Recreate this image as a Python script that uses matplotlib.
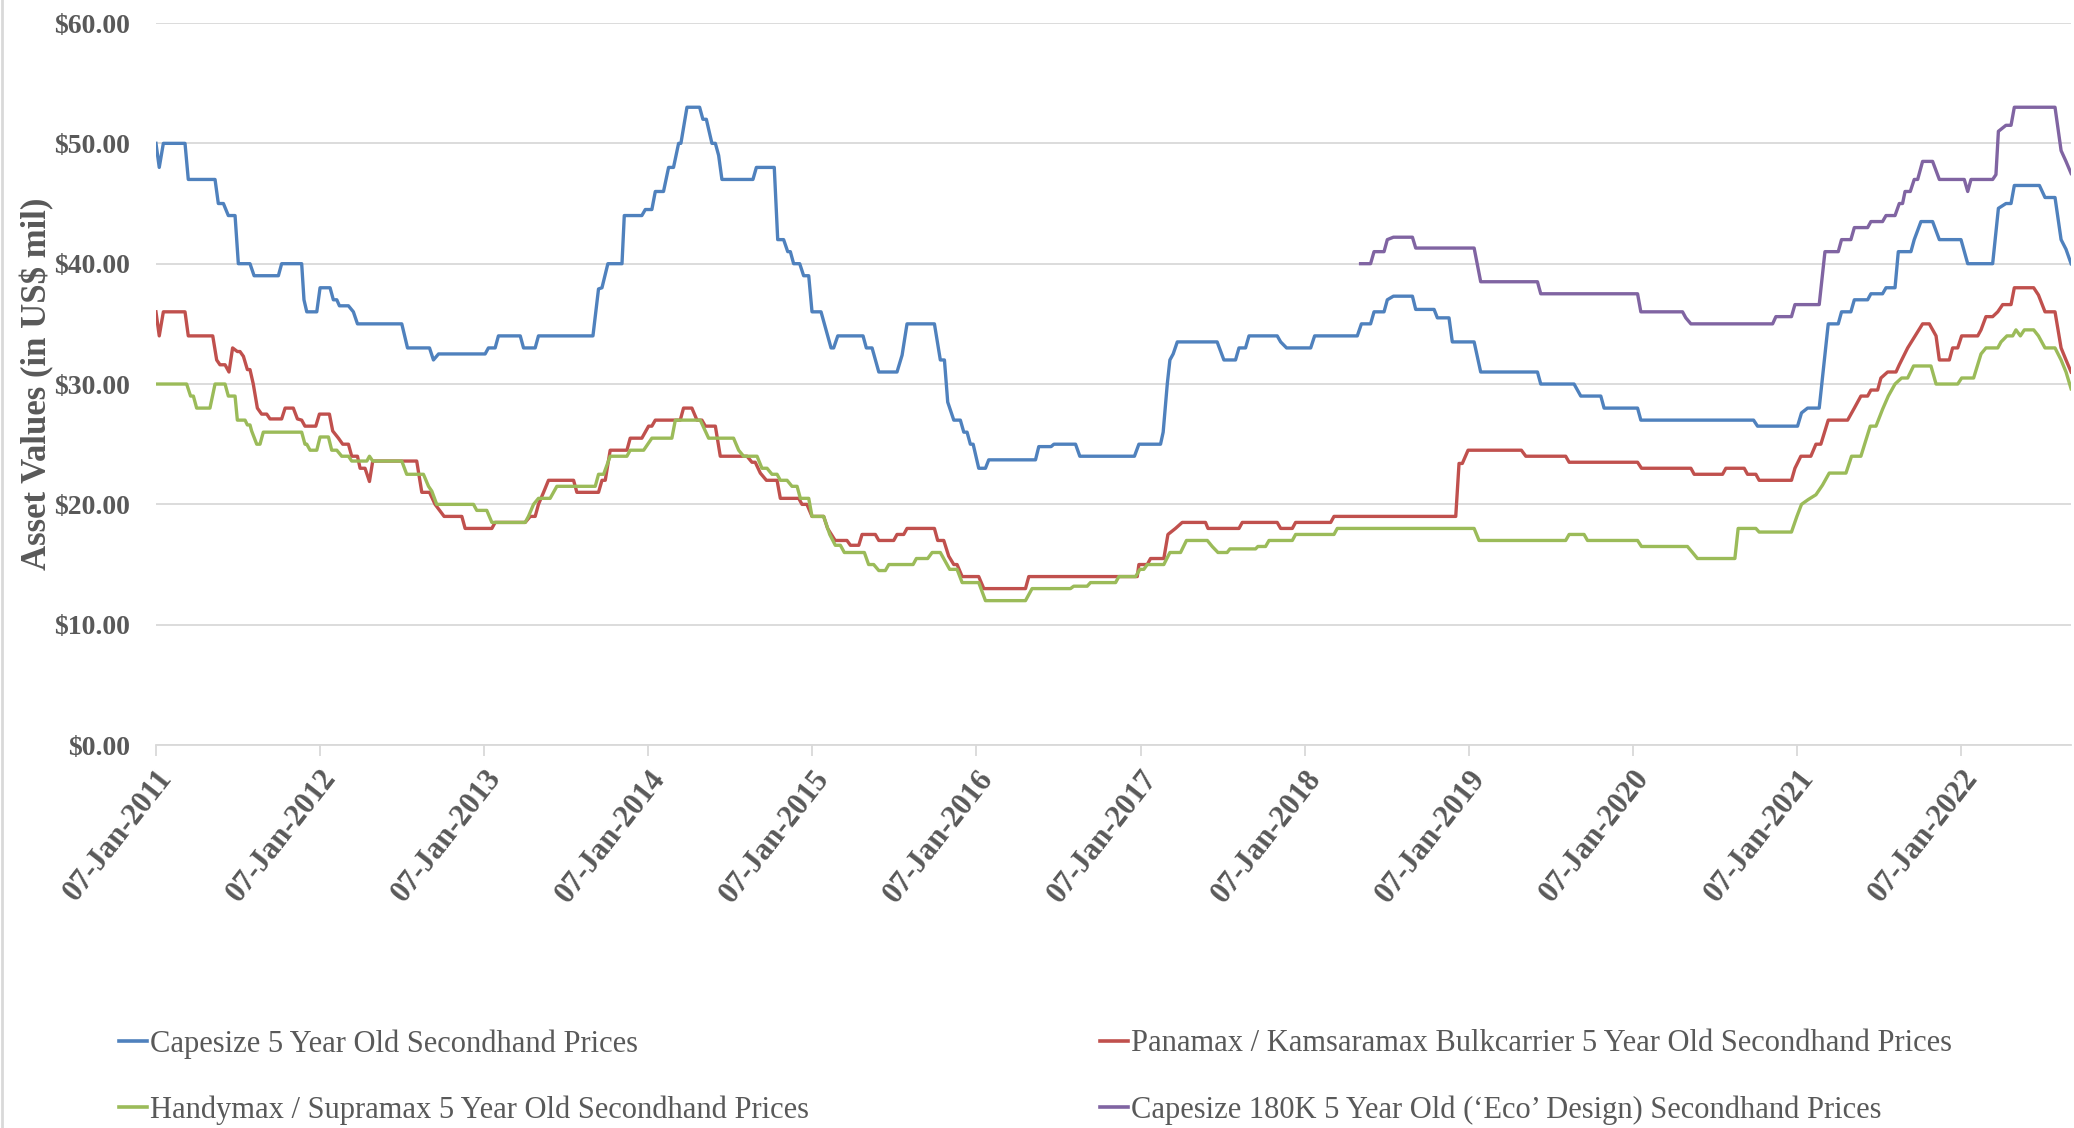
import numpy as np
import pandas as pd
import matplotlib
matplotlib.use("Agg")
import matplotlib.pyplot as plt
import matplotlib.dates as mdates
from matplotlib.lines import Line2D

# secondhand asset values in US$ mil, as (years after 07-Jan-2011, value)
capesize = [(0.0, 50), (0.020, 48), (0.045, 50), (0.177, 50), (0.197, 47), (0.360, 47), (0.380, 45), (0.411, 45),
            (0.441, 44), (0.482, 44), (0.502, 40), (0.573, 40), (0.598, 39), (0.746, 39), (0.766, 40), (0.888, 40),
            (0.902, 37), (0.919, 36), (0.980, 36), (1.000, 38), (1.061, 38), (1.081, 37), (1.102, 37), (1.118, 36.5),
            (1.173, 36.5), (1.203, 36), (1.228, 35), (1.498, 35), (1.533, 33), (1.667, 33), (1.691, 32), (1.722, 32.5),
            (2.006, 32.5), (2.026, 33), (2.067, 33), (2.087, 34), (2.220, 34), (2.240, 33), (2.311, 33), (2.331, 34),
            (2.663, 34), (2.697, 37.9), (2.718, 38), (2.754, 40), (2.840, 40), (2.854, 44), (2.961, 44), (2.982, 44.5),
            (3.022, 44.5), (3.043, 46), (3.093, 46), (3.124, 48), (3.154, 48), (3.185, 50), (3.199, 50), (3.236, 53),
            (3.313, 53), (3.333, 52), (3.354, 52), (3.388, 50), (3.409, 50), (3.429, 49), (3.449, 47), (3.638, 47),
            (3.659, 48), (3.768, 48), (3.789, 42), (3.825, 42), (3.850, 41), (3.866, 41), (3.886, 40), (3.923, 40),
            (3.947, 39), (3.978, 39), (3.998, 36), (4.053, 36), (4.114, 33), (4.130, 33), (4.155, 34), (4.309, 34),
            (4.329, 33), (4.364, 33), (4.405, 31), (4.516, 31), (4.547, 32.4), (4.577, 35), (4.744, 35), (4.780, 32),
            (4.805, 32), (4.825, 28.5), (4.862, 27), (4.902, 27), (4.923, 26), (4.943, 26), (4.963, 25), (4.980, 25),
            (5.014, 23), (5.055, 23), (5.075, 23.7), (5.360, 23.7), (5.380, 24.8), (5.455, 24.8), (5.472, 25),
            (5.604, 25), (5.630, 24), (5.963, 24), (5.990, 25), (6.122, 25), (6.138, 26), (6.163, 30), (6.179, 32),
            (6.199, 32.5), (6.224, 33.5), (6.467, 33.5), (6.508, 32), (6.579, 32), (6.600, 33), (6.640, 33),
            (6.661, 34), (6.833, 34), (6.854, 33.5), (6.890, 33), (7.037, 33), (7.061, 34), (7.321, 34), (7.346, 35),
            (7.402, 35), (7.423, 36), (7.484, 36), (7.504, 37), (7.541, 37.3), (7.657, 37.3), (7.677, 36.2),
            (7.789, 36.2), (7.809, 35.5), (7.880, 35.5), (7.900, 33.5), (8.033, 33.5), (8.073, 31), (8.419, 31),
            (8.439, 30), (8.642, 30), (8.683, 29), (8.805, 29), (8.825, 28), (9.029, 28), (9.049, 27), (9.736, 27),
            (9.760, 26.5), (10.004, 26.5), (10.028, 27.6), (10.065, 28), (10.136, 28), (10.191, 35), (10.252, 35),
            (10.272, 36), (10.329, 36), (10.350, 37), (10.431, 37), (10.451, 37.5), (10.522, 37.5), (10.543, 38),
            (10.598, 38), (10.618, 41), (10.695, 41), (10.715, 42), (10.756, 43.5), (10.827, 43.5), (10.868, 42),
            (11.000, 42), (11.041, 40), (11.193, 40), (11.228, 44.6), (11.274, 45), (11.305, 45), (11.325, 46.5),
            (11.478, 46.5), (11.512, 45.5), (11.573, 45.5), (11.610, 42), (11.640, 41.2), (11.671, 40)]

panamax = [(0.0, 36), (0.020, 34), (0.045, 36), (0.177, 36), (0.197, 34), (0.346, 34), (0.370, 32), (0.390, 31.6),
           (0.421, 31.6), (0.445, 31), (0.467, 33), (0.496, 32.7), (0.512, 32.7), (0.533, 32.3), (0.557, 31.2),
           (0.573, 31.2), (0.593, 30), (0.618, 28), (0.644, 27.5), (0.675, 27.5), (0.695, 27.1), (0.766, 27.1),
           (0.787, 28), (0.837, 28), (0.862, 27.1), (0.888, 27), (0.908, 26.5), (0.974, 26.5), (0.996, 27.5),
           (1.057, 27.5), (1.077, 26.1), (1.112, 25.5), (1.138, 25), (1.173, 25), (1.193, 24), (1.228, 24),
           (1.244, 23), (1.274, 23), (1.301, 21.9), (1.321, 23.6), (1.589, 23.6), (1.620, 21), (1.667, 21),
           (1.701, 20), (1.756, 19), (1.864, 19), (1.884, 18), (2.047, 18), (2.067, 18.5), (2.250, 18.5),
           (2.281, 19), (2.311, 19), (2.331, 20), (2.362, 21), (2.392, 22), (2.545, 22), (2.565, 21), (2.697, 21),
           (2.718, 22), (2.738, 22), (2.768, 24.5), (2.870, 24.5), (2.890, 25.5), (2.961, 25.5), (3.002, 26.5),
           (3.022, 26.5), (3.043, 27), (3.195, 27), (3.215, 28), (3.266, 28), (3.297, 27), (3.327, 27),
           (3.348, 26.5), (3.409, 26.5), (3.439, 24), (3.602, 24), (3.632, 23.5), (3.652, 23.5), (3.683, 22.6),
           (3.720, 22), (3.785, 22), (3.805, 20.5), (3.917, 20.5), (3.937, 20), (3.967, 20), (3.998, 19),
           (4.069, 19), (4.093, 18), (4.139, 17), (4.211, 17), (4.232, 16.6), (4.283, 16.6), (4.303, 17.5),
           (4.384, 17.5), (4.405, 17), (4.496, 17), (4.516, 17.5), (4.557, 17.5), (4.577, 18), (4.744, 18),
           (4.764, 17), (4.801, 17), (4.831, 15.7), (4.862, 15), (4.882, 15), (4.913, 14), (5.014, 14), (5.045, 13),
           (5.299, 13), (5.319, 14), (5.980, 14), (5.990, 15), (6.041, 15), (6.061, 15.5), (6.142, 15.5),
           (6.167, 17.5), (6.213, 18), (6.254, 18.5), (6.396, 18.5), (6.411, 18), (6.600, 18), (6.620, 18.5),
           (6.833, 18.5), (6.854, 18), (6.925, 18), (6.945, 18.5), (7.159, 18.5), (7.179, 19), (7.921, 19),
           (7.941, 23.4), (7.961, 23.4), (7.996, 24.5), (8.321, 24.5), (8.348, 24), (8.591, 24), (8.612, 23.5),
           (9.029, 23.5), (9.053, 23), (9.354, 23), (9.374, 22.5), (9.547, 22.5), (9.567, 23), (9.679, 23),
           (9.699, 22.5), (9.750, 22.5), (9.770, 22), (9.967, 22), (9.988, 23), (10.024, 24), (10.085, 24),
           (10.116, 25), (10.146, 25), (10.191, 27), (10.309, 27), (10.350, 28), (10.390, 29), (10.431, 29),
           (10.451, 29.5), (10.492, 29.5), (10.512, 30.5), (10.553, 31), (10.604, 31), (10.624, 31.6), (10.675, 33),
           (10.766, 35), (10.807, 35), (10.848, 34), (10.868, 32), (10.929, 32), (10.949, 33), (10.980, 33),
           (11.004, 34), (11.102, 34), (11.122, 34.5), (11.152, 35.6), (11.193, 35.6), (11.224, 36), (11.254, 36.6),
           (11.305, 36.6), (11.325, 38), (11.443, 38), (11.472, 37.4), (11.512, 36), (11.573, 36), (11.610, 33),
           (11.640, 32), (11.671, 31)]

handymax = [(0.0, 30), (0.187, 30), (0.211, 29), (0.228, 29), (0.248, 28), (0.329, 28), (0.360, 30), (0.421, 30),
            (0.441, 29), (0.482, 29), (0.496, 27), (0.543, 27), (0.557, 26.6), (0.573, 26.6), (0.583, 26.1),
            (0.614, 25), (0.634, 25), (0.654, 26), (0.888, 26), (0.908, 25), (0.919, 25), (0.939, 24.5), (0.980, 24.5),
            (1.000, 25.6), (1.051, 25.6), (1.071, 24.5), (1.102, 24.5), (1.132, 24), (1.173, 24), (1.193, 23.6),
            (1.285, 23.6), (1.301, 24), (1.321, 23.6), (1.498, 23.6), (1.528, 22.5), (1.630, 22.5), (1.661, 21.5),
            (1.681, 21.1), (1.711, 20), (1.935, 20), (1.955, 19.5), (2.016, 19.5), (2.047, 18.5), (2.250, 18.5),
            (2.270, 19), (2.301, 20), (2.331, 20.5), (2.402, 20.5), (2.443, 21.5), (2.677, 21.5), (2.697, 22.5),
            (2.728, 22.5), (2.768, 24), (2.870, 24), (2.890, 24.5), (2.972, 24.5), (3.022, 25.5), (3.144, 25.5),
            (3.165, 27), (3.317, 27), (3.368, 25.5), (3.520, 25.5), (3.551, 24.5), (3.581, 24), (3.663, 24),
            (3.693, 23), (3.724, 23), (3.754, 22.5), (3.785, 22.5), (3.805, 22), (3.846, 22), (3.876, 21.5),
            (3.907, 21.5), (3.927, 20.5), (3.978, 20.5), (3.998, 19), (4.069, 19), (4.106, 17.5), (4.140, 16.6),
            (4.171, 16.6), (4.195, 16), (4.317, 16), (4.343, 15), (4.374, 15), (4.405, 14.5), (4.445, 14.5),
            (4.466, 15), (4.614, 15), (4.634, 15.5), (4.703, 15.5), (4.730, 16), (4.780, 16), (4.837, 14.6),
            (4.882, 14.6), (4.913, 13.5), (5.014, 13.5), (5.055, 12), (5.299, 12), (5.339, 13), (5.573, 13),
            (5.593, 13.2), (5.675, 13.2), (5.695, 13.5), (5.848, 13.5), (5.868, 14), (5.970, 14), (5.996, 14.6),
            (6.020, 14.6), (6.041, 15), (6.142, 15), (6.179, 16), (6.244, 16), (6.280, 17), (6.407, 17),
            (6.437, 16.5), (6.472, 16), (6.528, 16), (6.545, 16.3), (6.701, 16.3), (6.715, 16.5), (6.762, 16.5),
            (6.783, 17), (6.925, 17), (6.945, 17.5), (7.179, 17.5), (7.199, 18), (8.033, 18), (8.063, 17),
            (8.591, 17), (8.612, 17.5), (8.703, 17.5), (8.724, 17), (9.029, 17), (9.053, 16.5), (9.333, 16.5),
            (9.364, 16), (9.394, 15.5), (9.622, 15.5), (9.642, 18), (9.750, 18), (9.770, 17.7), (9.967, 17.7),
            (10.000, 19), (10.028, 20), (10.069, 20.4), (10.116, 20.8), (10.156, 21.6), (10.197, 22.6),
            (10.299, 22.6), (10.333, 24), (10.390, 24), (10.447, 26.5), (10.482, 26.5), (10.522, 27.9), (10.557, 29),
            (10.598, 30), (10.638, 30.5), (10.675, 30.5), (10.711, 31.5), (10.817, 31.5), (10.848, 30), (10.980, 30),
            (11.004, 30.5), (11.077, 30.5), (11.122, 32.5), (11.152, 33), (11.224, 33), (11.244, 33.5), (11.280, 34),
            (11.315, 34), (11.335, 34.5), (11.362, 34), (11.386, 34.5), (11.443, 34.5), (11.472, 34), (11.512, 33),
            (11.573, 33), (11.610, 32), (11.640, 31), (11.671, 29.6)]

capesize_eco = [(7.341, 40), (7.402, 40), (7.423, 41), (7.484, 41), (7.504, 42), (7.541, 42.2), (7.657, 42.2),
                (7.677, 41.3), (8.033, 41.3), (8.073, 38.5), (8.419, 38.5), (8.439, 37.5), (9.029, 37.5), (9.049, 36),
                (9.303, 36), (9.323, 35.5), (9.354, 35), (9.852, 35), (9.872, 35.6), (9.967, 35.6), (9.988, 36.6),
                (10.136, 36.6), (10.171, 41), (10.252, 41), (10.272, 42), (10.329, 42), (10.350, 43), (10.431, 43),
                (10.451, 43.5), (10.522, 43.5), (10.543, 44), (10.598, 44), (10.624, 45), (10.644, 45), (10.659, 46),
                (10.691, 46), (10.715, 47), (10.736, 47), (10.766, 48.5), (10.827, 48.5), (10.868, 47), (11.020, 47),
                (11.041, 46), (11.061, 47), (11.193, 47), (11.213, 47.4), (11.228, 51), (11.274, 51.5), (11.305, 51.5),
                (11.325, 53), (11.573, 53), (11.610, 49.4), (11.640, 48.5), (11.671, 47.5)]

labels = ["Capesize 5 Year Old Secondhand Prices",
          "Panamax / Kamsaramax Bulkcarrier 5 Year Old Secondhand Prices",
          "Handymax / Supramax 5 Year Old Secondhand Prices",
          "Capesize 180K 5 Year Old (\u2018Eco\u2019 Design) Secondhand Prices"]
colors = ["#4F81BD", "#C0504D", "#9BBB59", "#8064A2"]
series = [capesize, panamax, handymax, capesize_eco]

start = pd.Timestamp("2011-01-07")
tick_dates = [pd.Timestamp(f"{yr}-01-07") for yr in range(2011, 2023)]
y_ticks = [0, 10, 20, 30, 40, 50, 60]

grey = "#595959"
plt.rcParams["font.family"] = ["Liberation Serif", "DejaVu Serif"]


def to_dates(yrs):
    return start + pd.to_timedelta(np.asarray(yrs) * 365.25, unit="D")


fig = plt.figure(figsize=(20.74, 11.28), dpi=100)
ax = fig.add_axes([0.0752, 0.3395, 0.9234, 0.6401])

for pts, col in zip(series, colors):
    t, v = zip(*pts)
    ax.plot(to_dates(t), v, color=col, lw=2.4, solid_joinstyle="round")

ax.set_ylim(0, 60)
ax.set_xlim(start, to_dates([11.671])[0])
ax.set_yticks(y_ticks)
ax.set_yticklabels([f"${v:.2f}" for v in y_ticks])
ax.grid(axis="y", color="#d9d9d9", lw=1.3)
ax.set_axisbelow(True)

ax.set_xticks(tick_dates)
ax.xaxis.set_major_formatter(mdates.DateFormatter("%d-%b-%Y"))
for lab in ax.get_xticklabels():
    lab.set_rotation(52)
    lab.set_ha("right")
    lab.set_va("top")
    lab.set_rotation_mode("anchor")

for s in ["top", "right", "left"]:
    ax.spines[s].set_visible(False)
ax.spines["bottom"].set_color("#d9d9d9")
ax.spines["bottom"].set_linewidth(1.3)

ax.tick_params(axis="y", length=0, pad=19, labelsize=20, labelcolor=grey)
ax.tick_params(axis="x", length=8, width=1.3, color="#d9d9d9", pad=6, labelsize=22, labelcolor=grey)
for lab in ax.get_xticklabels() + ax.get_yticklabels():
    lab.set_fontweight("bold")

ax.set_ylabel("Asset Values (in US$ mil)", fontsize=25, fontweight="bold", color=grey)
ax.yaxis.set_label_coords(-0.053, 0.5)

# legend: two columns, two rows
handles = [Line2D([], [], color=c, lw=2.6) for c in colors]
leg_kw = dict(frameon=False, fontsize=22, handlelength=0.9, handletextpad=0.12,
              labelspacing=1.2, borderpad=0, borderaxespad=0, labelcolor=grey)
fig.legend([handles[0], handles[2]], [labels[0], labels[2]], loc="center left",
           bbox_to_anchor=(119 / 2074, 1 - 1077 / 1128), **leg_kw)
fig.legend([handles[1], handles[3]], [labels[1], labels[3]], loc="center left",
           bbox_to_anchor=(1100 / 2074, 1 - 1077 / 1128), **leg_kw)

# thin chart border on the left edge
fig.add_artist(Line2D([0.0012, 0.0012], [0, 1], transform=fig.transFigure, color="#d9d9d9", lw=2))

fig.savefig("out.png", dpi=100)
